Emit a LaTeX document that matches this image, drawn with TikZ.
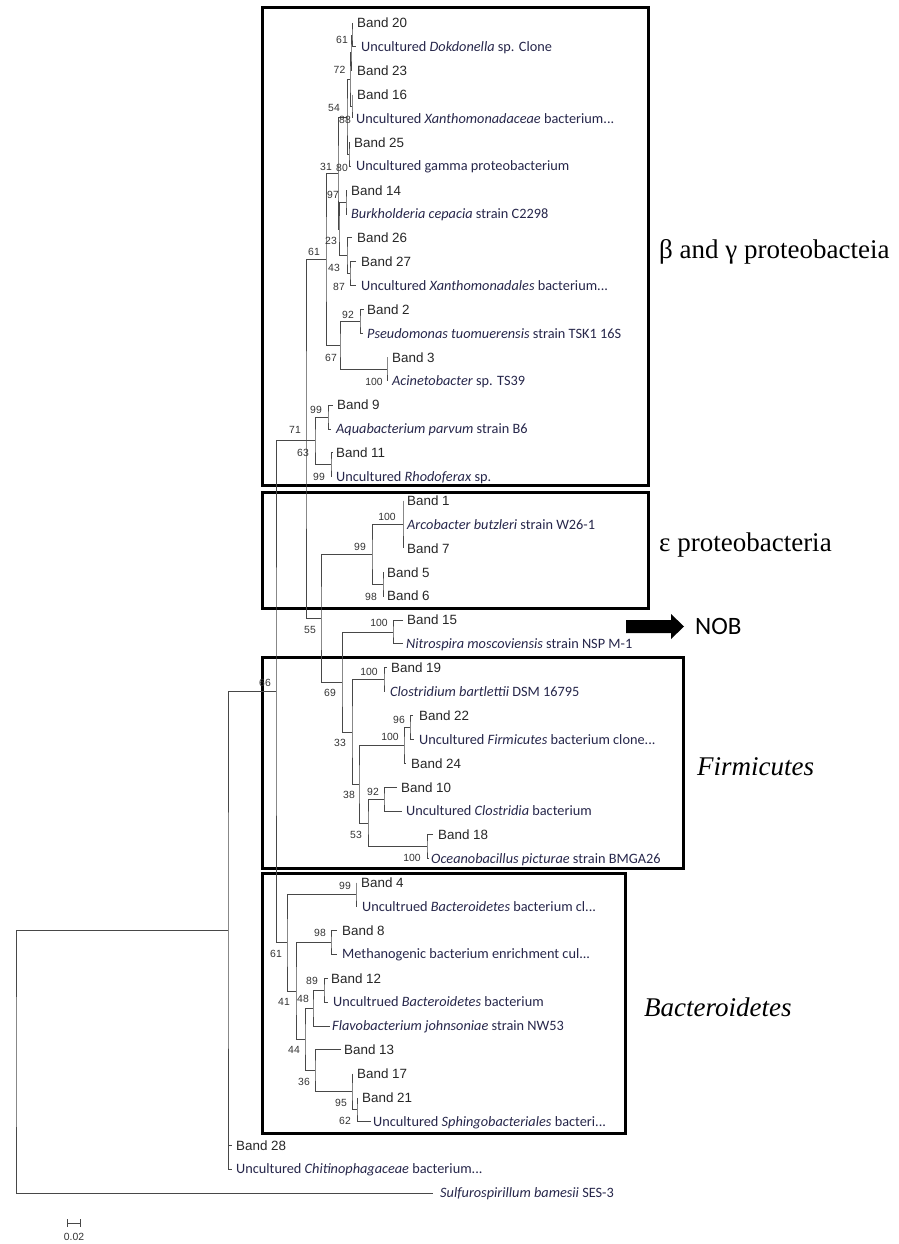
\documentclass[tikz,border=0pt]{standalone}
\usepackage{fontspec}
\setmainfont{Liberation Serif}
\newfontfamily\arialf{Liberation Sans}
\newfontfamily\calf{Carlito}
\definecolor{treec}{HTML}{484848}
\definecolor{spc}{HTML}{26264A}
\definecolor{bsc}{HTML}{333333}
\begin{document}
\begin{tikzpicture}[x=1pt,y=-1pt,
 br/.style={draw=treec, line width=0.95pt},
 bandt/.style={anchor=base west, inner sep=0pt, font=\arialf\fontsize{13.4}{14}\selectfont, text=black!85, yshift=-4.8pt},
 spt/.style={anchor=base west, inner sep=0pt, font=\calf\fontsize{14.3}{15}\selectfont, text=spc, yshift=-4.6pt},
 bst/.style={inner sep=0pt, font=\arialf\fontsize{10.4}{11}\selectfont, text=bsc},
 grp/.style={anchor=base west, inner sep=0pt, font=\fontsize{27}{30}\selectfont},
 boxr/.style={draw=black, line width=3pt}]
\useasboundingbox (0,0) rectangle (898,1244);

% clade boxes
\draw[boxr] (262,8) rectangle (648,485);
\draw[boxr] (262,492) rectangle (648,608);
\draw[boxr] (262,657) rectangle (683,868);
\draw[boxr] (262,873) rectangle (625,1133);

% leaves
\coordinate (L0) at (352,23.0); \node[bandt] (T0) at (357,23.0) {Band 20};
\coordinate (L1) at (356,46.9); \node[spt] (T1) at (361,46.9) {Uncultured \textit{Dokdonella} sp. Clone};
\coordinate (L2) at (352,70.8); \node[bandt] (T2) at (357,70.8) {Band 23};
\coordinate (L3) at (352,94.6); \node[bandt] (T3) at (357,94.6) {Band 16};
\coordinate (L4) at (352,118.5); \node[spt] (T4) at (356,118.5) {Uncultured \textit{Xanthomonadaceae} bacterium...};
\coordinate (L5) at (350,142.4); \node[bandt] (T5) at (354,142.4) {Band 25};
\coordinate (L6) at (351,166.3); \node[spt] (T6) at (356,166.3) {Uncultured gamma proteobacterium};
\coordinate (L7) at (347,190.2); \node[bandt] (T7) at (351,190.2) {Band 14};
\coordinate (L8) at (347,214.0); \node[spt] (T8) at (351,214.0) {\textit{Burkholderia cepacia} strain C2298};
\coordinate (L9) at (352,237.9); \node[bandt] (T9) at (357,237.9) {Band 26};
\coordinate (L10) at (356,261.8); \node[bandt] (T10) at (361,261.8) {Band 27};
\coordinate (L11) at (356,285.7); \node[spt] (T11) at (361,285.7) {Uncultured \textit{Xanthomonadales} bacterium...};
\coordinate (L12) at (364,309.6); \node[bandt] (T12) at (367,309.6) {Band 2};
\coordinate (L13) at (363,333.4); \node[spt] (T13) at (367,333.4) {\textit{Pseudomonas tuomuerensis} strain TSK1 16S};
\coordinate (L14) at (387,357.3); \node[bandt] (T14) at (392,357.3) {Band 3};
\coordinate (L15) at (387,381.2); \node[spt] (T15) at (392,381.2) {\textit{Acinetobacter} sp. TS39};
\coordinate (L16) at (333,405.1); \node[bandt] (T16) at (337,405.1) {Band 9};
\coordinate (L17) at (331,429.0); \node[spt] (T17) at (336,429.0) {\textit{Aquabacterium parvum} strain B6};
\coordinate (L18) at (333,452.8); \node[bandt] (T18) at (336,452.8) {Band 11};
\coordinate (L19) at (331,476.7); \node[spt] (T19) at (336,476.7) {Uncultured \textit{Rhodoferax} sp.};
\coordinate (L20) at (403,500.6); \node[bandt] (T20) at (407,500.6) {Band 1};
\coordinate (L21) at (403,524.5); \node[spt] (T21) at (407,524.5) {\textit{Arcobacter butzleri} strain W26-1};
\coordinate (L22) at (403,548.4); \node[bandt] (T22) at (407,548.4) {Band 7};
\coordinate (L23) at (384,572.2); \node[bandt] (T23) at (387,572.2) {Band 5};
\coordinate (L24) at (384,596.1); \node[bandt] (T24) at (387,596.1) {Band 6};
\coordinate (L25) at (403,620.0); \node[bandt] (T25) at (407,620.0) {Band 15};
\coordinate (L26) at (403,643.9); \node[spt] (T26) at (406,643.9) {\textit{Nitrospira moscoviensis} strain NSP M-1};
\coordinate (L27) at (387,667.8); \node[bandt] (T27) at (391,667.8) {Band 19};
\coordinate (L28) at (385,691.6); \node[spt] (T28) at (390,691.6) {\textit{Clostridium bartlettii} DSM 16795};
\coordinate (L29) at (413,715.5); \node[bandt] (T29) at (419,715.5) {Band 22};
\coordinate (L30) at (414,739.4); \node[spt] (T30) at (419,739.4) {Uncultured \textit{Firmicutes} bacterium clone...};
\coordinate (L31) at (406,763.3); \node[bandt] (T31) at (411,763.3) {Band 24};
\coordinate (L32) at (397,787.2); \node[bandt] (T32) at (401,787.2) {Band 10};
\coordinate (L33) at (402,811.0); \node[spt] (T33) at (406,811.0) {Uncultured \textit{Clostridia} bacterium};
\coordinate (L34) at (433,834.9); \node[bandt] (T34) at (438,834.9) {Band 18};
\coordinate (L35) at (429,858.8); \node[spt] (T35) at (431,858.8) {\textit{Oceanobacillus picturae} strain BMGA26};
\coordinate (L36) at (356,882.7); \node[bandt] (T36) at (361,882.7) {Band 4};
\coordinate (L37) at (356,906.6); \node[spt] (T37) at (362,906.6) {Uncultrued \textit{Bacteroidetes} bacterium cl...};
\coordinate (L38) at (337,930.4); \node[bandt] (T38) at (342,930.4) {Band 8};
\coordinate (L39) at (337,954.3); \node[spt] (T39) at (342,954.3) {Methanogenic bacterium enrichment cul...};
\coordinate (L40) at (328,978.2); \node[bandt] (T40) at (331,978.2) {Band 12};
\coordinate (L41) at (328,1002.1); \node[spt] (T41) at (333,1002.1) {Uncultrued \textit{Bacteroidetes} bacterium};
\coordinate (L42) at (330,1026.0); \node[spt] (T42) at (332,1026.0) {\textit{Flavobacterium johnsoniae} strain NW53};
\coordinate (L43) at (341,1049.8); \node[bandt] (T43) at (344,1049.8) {Band 13};
\coordinate (L44) at (352,1073.7); \node[bandt] (T44) at (357,1073.7) {Band 17};
\coordinate (L45) at (357,1097.6); \node[bandt] (T45) at (362,1097.6) {Band 21};
\coordinate (L46) at (371,1121.5); \node[spt] (T46) at (373,1121.5) {Uncultured \textit{Sphingobacteriales} bacteri...};
\coordinate (L47) at (232,1145.4); \node[bandt] (T47) at (236,1145.4) {Band 28};
\coordinate (L48) at (232,1169.2); \node[spt] (T48) at (236,1169.2) {Uncultured \textit{Chitinophagaceae} bacterium...};
\coordinate (L49) at (433,1193.1); \node[spt] (T49) at (440,1193.1) {\textit{Sulfurospirillum bamesii} SES-3};

% internal nodes
\coordinate (n61a) at (352,35.0);
\coordinate (n72) at (351,52.9);
\coordinate (n88) at (352,106.6);
\coordinate (n54) at (350,79.7);
\coordinate (n80) at (349,154.4);
\coordinate (nU) at (347,117.0);
\coordinate (n97) at (346,202.1);
\coordinate (n87) at (350,273.8);
\coordinate (n43) at (347,255.8);
\coordinate (n23) at (339,229.0);
\coordinate (n31) at (338,173.0);
\coordinate (n92) at (360,321.5);
\coordinate (n100a) at (387,369.3);
\coordinate (n67) at (340,345.4);
\coordinate (n61b) at (326,259.2);
\coordinate (n99a) at (328,417.1);
\coordinate (n99b) at (331,464.8);
\coordinate (n63) at (315,440.9);
\coordinate (n100b) at (403,524.5);
\coordinate (n98) at (383,584.2);
\coordinate (n99c) at (372,554.4);
\coordinate (n100c) at (393,632.0);
\coordinate (n100d) at (384,679.7);
\coordinate (n96) at (410,727.5);
\coordinate (n100e) at (404,745.4);
\coordinate (n92b) at (384,799.1);
\coordinate (n100f) at (427,846.9);
\coordinate (n53) at (368,823.0);
\coordinate (n38) at (359,784.2);
\coordinate (n33) at (352,732.0);
\coordinate (n69) at (342,682.0);
\coordinate (n55) at (321,618.2);
\coordinate (n71) at (306,440.9);
\coordinate (n99d) at (356,894.7);
\coordinate (n98b) at (331,942.4);
\coordinate (n89) at (324,990.2);
\coordinate (n48) at (313,1008.1);
\coordinate (n62) at (357,1109.6);
\coordinate (n95) at (352,1091.7);
\coordinate (n36) at (315,1070.8);
\coordinate (n44) at (305,1039.5);
\coordinate (n41) at (296,991.0);
\coordinate (n61c) at (287,942.8);
\coordinate (n66) at (276,691.9);
\coordinate (nR1) at (228,930.6);
\coordinate (root) at (16,1061.9);

% branches
\draw[br] (L0) -| (n61a) |- (L1);
\draw[br] (n61a) -| (n72) |- (L2);
\draw[br] (L3) -| (n88) |- (L4);
\draw[br] (n72) -| (n54) |- (n88);
\draw[br] (L5) -| (n80) |- (L6);
\draw[br] (n54) -| (nU) |- (n80);
\draw[br] (L7) -| (n97) |- (L8);
\draw[br] (L10) -| (n87) |- (L11);
\draw[br] (L9) -| (n43) |- (n87);
\draw[br] (n97) -| (n23) |- (n43);
\draw[br] (nU) -| (n31) |- (n23);
\draw[br] (L12) -| (n92) |- (L13);
\draw[br] (L14) -| (n100a) |- (L15);
\draw[br] (n92) -| (n67) |- (n100a);
\draw[br] (n31) -| (n61b) |- (n67);
\draw[br] (L16) -| (n99a) |- (L17);
\draw[br] (L18) -| (n99b) |- (L19);
\draw[br] (n99a) -| (n63) |- (n99b);
\draw[br] (L20) -| (n100b) |- (L22);
\draw[br] (n100b |- L21) -- (L21);
\draw[br] (L23) -| (n98) |- (L24);
\draw[br] (n100b) -| (n99c) |- (n98);
\draw[br] (L25) -| (n100c) |- (L26);
\draw[br] (L27) -| (n100d) |- (L28);
\draw[br] (L29) -| (n96) |- (L30);
\draw[br] (n96) -| (n100e) |- (L31);
\draw[br] (L32) -| (n92b) |- (L33);
\draw[br] (L34) -| (n100f) |- (L35);
\draw[br] (n92b) -| (n53) |- (n100f);
\draw[br] (n100e) -| (n38) |- (n53);
\draw[br] (n100d) -| (n33) |- (n38);
\draw[br] (n100c) -| (n69) |- (n33);
\draw[br] (n99c) -| (n55) |- (n69);
\draw[br] (n61b) -| (n71) |- (n55);
\draw[br] (n71) -- (n63);
\draw[br] (L36) -| (n99d) |- (L37);
\draw[br] (L38) -| (n98b) |- (L39);
\draw[br] (L40) -| (n89) |- (L41);
\draw[br] (n89) -| (n48) |- (L42);
\draw[br] (L45) -| (n62) |- (L46);
\draw[br] (L44) -| (n95) |- (n62);
\draw[br] (L43) -| (n36) |- (n95);
\draw[br] (n48) -| (n44) |- (n36);
\draw[br] (n98b) -| (n41) |- (n44);
\draw[br] (n99d) -| (n61c) |- (n41);
\draw[br] (n71) -| (n66) |- (n61c);
\draw[br] (n66) -| (nR1) |- (L48);
\draw[br] (nR1 |- L47) -- (L47);
\draw[br] (nR1) -| (root) |- (L49);

% bootstrap values
\node[bst] (b1) at (342,40) {61};
\node[bst] (b2) at (339.5,70) {72};
\node[bst] (b3) at (334,108) {54};
\node[bst] (b4) at (345,120) {88};
\node[bst] (b5) at (326,167) {31};
\node[bst] (b6) at (342,168) {80};
\node[bst] (b7) at (333,195) {97};
\node[bst] (b8) at (331,241) {23};
\node[bst] (b9) at (334,268) {43};
\node[bst] (b10) at (339,287) {87};
\node[bst] (b11) at (314,252) {61};
\node[bst] (b12) at (348,315) {92};
\node[bst] (b13) at (331,358) {67};
\node[bst] (b14) at (374,382) {100};
\node[bst] (b15) at (316,410) {99};
\node[bst] (b16) at (295,430) {71};
\node[bst] (b17) at (303,453) {63};
\node[bst] (b18) at (319,477) {99};
\node[bst] (b19) at (387,517) {100};
\node[bst] (b20) at (360,547) {99};
\node[bst] (b21) at (371,597) {98};
\node[bst] (b22) at (310,630) {55};
\node[bst] (b23) at (379,623) {100};
\node[bst] (b24) at (265,683) {66};
\node[bst] (b25) at (369,672) {100};
\node[bst] (b26) at (330,693) {69};
\node[bst] (b27) at (399,720) {96};
\node[bst] (b28) at (390,737) {100};
\node[bst] (b29) at (340,743) {33};
\node[bst] (b30) at (373,792) {92};
\node[bst] (b31) at (349,795) {38};
\node[bst] (b32) at (356,835) {53};
\node[bst] (b33) at (412,858) {100};
\node[bst] (b34) at (345,886) {99};
\node[bst] (b35) at (320,933) {98};
\node[bst] (b36) at (276,954) {61};
\node[bst] (b37) at (312,981) {89};
\node[bst] (b38) at (303,999) {48};
\node[bst] (b39) at (284,1002) {41};
\node[bst] (b40) at (294,1050) {44};
\node[bst] (b41) at (304,1082) {36};
\node[bst] (b42) at (341,1103) {95};
\node[bst] (b43) at (345,1121) {62};

% group labels
\node[grp] (g1) at (659,258) {β and γ proteobacteia};
\node[grp] (g2) at (659,551) {ε proteobacteria};
\node[grp] (g3) at (697,775) {\textit{Firmicutes}};
\node[grp] (g4) at (644,1016) {\textit{Bacteroidetes}};

% NOB arrow
\fill[black] (626,620) -- (671,620) -- (671,614) -- (684,626.5) -- (671,639) -- (671,633) -- (626,633) -- cycle;
\node[anchor=base west, inner sep=0pt, font=\calf\fontsize{25}{28}\selectfont] (nob) at (695,634.5) {NOB};

% scale bar
\coordinate (sb1) at (67,1223);
\coordinate (sb2) at (80,1223);
\draw[treec, line width=0.9pt] (sb1) -- (sb2);
\draw[treec, line width=0.9pt] ([yshift=4pt]sb1) -- ([yshift=-4pt]sb1);
\draw[treec, line width=0.9pt] ([yshift=4pt]sb2) -- ([yshift=-4pt]sb2);
\node[bst] (sbl) at (74,1237) {0.02};
\end{tikzpicture}
\end{document}
